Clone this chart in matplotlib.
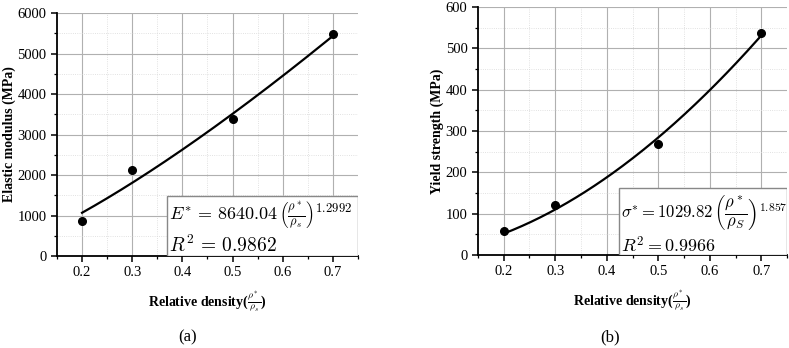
import numpy as np
import matplotlib.pyplot as plt
from matplotlib.patches import Rectangle
from matplotlib.ticker import MultipleLocator

plt.rcParams['font.family'] = ['Liberation Serif', 'DejaVu Serif']
plt.rcParams['mathtext.fontset'] = 'cm'

# datos
densidad = [0.2, 0.3, 0.5, 0.7]
modulo = [860, 2120, 3380, 5490]
resistencia = [58, 121, 268, 536]

# parametros del ajuste E = C * rho^n
coef_E, expo_E = 8640.04, 1.2992
coef_s, expo_s = 1029.82, 1.857

fig = plt.figure(figsize=(7.89, 3.48), dpi=100)
ax1 = fig.add_axes([0.0722, 0.2644, 0.3815, 0.698])
ax2 = fig.add_axes([0.6058, 0.2672, 0.3917, 0.7127])

xfit = np.linspace(0.2, 0.7, 200)


def estilo(ax, ymax, ymaj, ymin):
    ax.set_xlim(0.15, 0.75)
    ax.set_ylim(0, ymax)
    ax.xaxis.set_major_locator(MultipleLocator(0.1))
    ax.xaxis.set_minor_locator(MultipleLocator(0.05))
    ax.yaxis.set_major_locator(MultipleLocator(ymaj))
    ax.yaxis.set_minor_locator(MultipleLocator(ymin))
    ax.grid(True, which='major', color='#b0b0b0', lw=0.8)
    ax.grid(True, which='minor', color='#d8d8d8', lw=0.6, ls=':')
    ax.set_axisbelow(True)
    for s in ['top', 'right']:
        ax.spines[s].set_visible(False)
    for s in ['left', 'bottom']:
        ax.spines[s].set_linewidth(1.3)
    ax.tick_params(which='major', direction='out', length=4, width=1.1, labelsize=10.5)
    ax.tick_params(which='minor', direction='out', length=2.5, width=0.9)
    ax.set_xlabel(r'Relative density($\frac{\rho^*}{\rho_s}$)', fontsize=10,
                  fontweight='bold', labelpad=7)


# (a)
estilo(ax1, 6000, 1000, 500)
ax1.plot(xfit, coef_E * xfit ** expo_E, color='black', lw=1.6)
ax1.plot(densidad, modulo, 'o', color='black', ms=5.5)
ax1.set_ylabel('Elastic modulus (MPa)', fontsize=10, fontweight='bold', labelpad=1)
ax1.add_patch(Rectangle((0.365, 0), 0.635, 0.247, transform=ax1.transAxes,
                        facecolor='white', edgecolor='#888888', lw=1, zorder=3))
ax1.text(0.372, 0.17, r'$E^{*}\,=\,8640.04\,\left(\frac{\rho^*}{\rho_s}\right)^{1.2992}$',
         transform=ax1.transAxes, fontsize=13, va='center', zorder=4)
ax1.text(0.372, 0.045, r'$R^2\,=\,0.9862$', transform=ax1.transAxes,
         fontsize=14, va='center', zorder=4)

# (b)
estilo(ax2, 600, 100, 50)
ax2.plot(xfit, coef_s * xfit ** expo_s, color='black', lw=1.6)
ax2.plot(densidad, resistencia, 'o', color='black', ms=5.5)
ax2.set_ylabel('Yield strength (MPa)', fontsize=10, fontweight='bold', labelpad=1)
ax2.add_patch(Rectangle((0.456, 0), 0.544, 0.27, transform=ax2.transAxes,
                        facecolor='white', edgecolor='#888888', lw=1, zorder=3))
ax2.text(0.463, 0.17, r'$\sigma^{*}=1029.82\,\left(\dfrac{\rho^*}{\rho_S}\right)^{1.857}$',
         transform=ax2.transAxes, fontsize=12, va='center', zorder=4)
ax2.text(0.463, 0.035, r'$R^2=0.9966$', transform=ax2.transAxes,
         fontsize=13, va='center', zorder=4)

fig.text(0.238, 0.02, '(a)', ha='center', fontsize=12)
fig.text(0.773, 0.02, '(b)', ha='center', fontsize=12)

fig.savefig('out.png', dpi=100)
